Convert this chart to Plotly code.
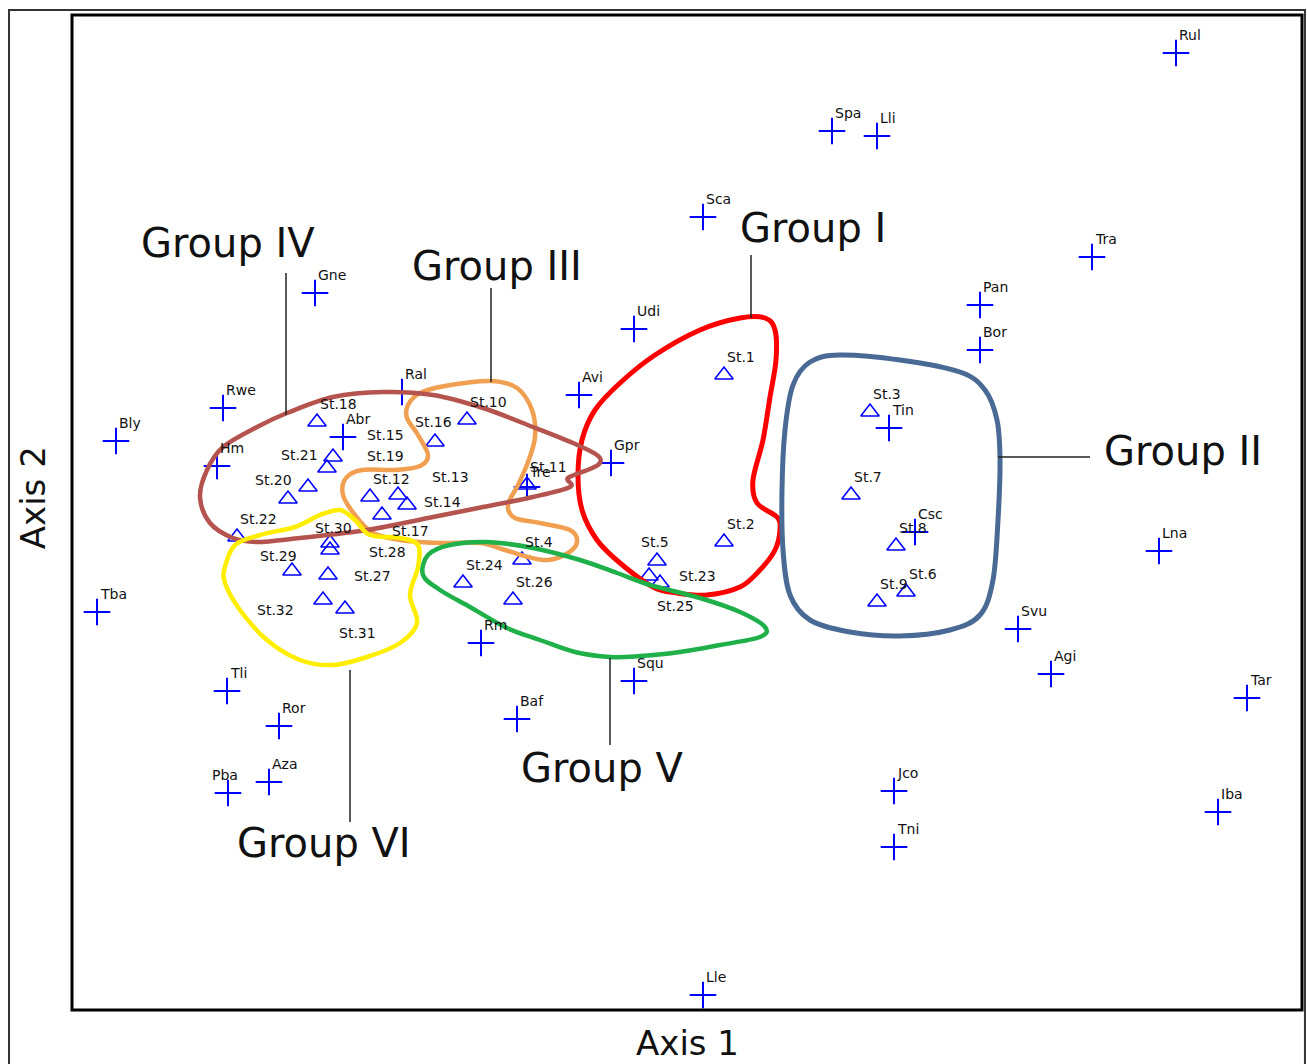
import plotly.graph_objects as go

# ---------------- data ----------------
species_names = ["Rul", "Spa", "Lli", "Sca", "Tra", "Pan", "Bor", "Udi", "Gne", "Ral", "Avi",
                 "Rwe", "Bly", "Abr", "Hm", "Gpr", "Tre", "Tin", "Csc", "Lna", "Tba", "Svu",
                 "Rm", "Squ", "Agi", "Tar", "Tli", "Ror", "Baf", "Aza", "Pba", "Jco", "Iba",
                 "Tni", "Lle"]
species_x = [110.4, 76.0, 80.5, 63.1, 102.0, 90.8, 90.8, 56.2, 24.3, 33.0, 50.7,
             15.1, 4.4, 27.1, 14.5, 53.9, 45.5, 81.7, 84.3, 108.7, 2.5, 94.6,
             40.9, 56.2, 97.9, 117.5, 15.5, 20.7, 44.5, 19.7, 15.6, 82.2, 114.6,
             82.2, 63.1]
species_y = [95.7, 87.9, 87.4, 79.3, 75.3, 70.5, 66.0, 68.1, 71.7, 61.8, 61.5,
             60.2, 56.9, 57.3, 54.4, 54.7, 52.3, 58.2, 47.8, 45.9, 39.8, 38.1,
             36.7, 32.9, 33.6, 31.2, 31.9, 28.4, 29.1, 22.8, 21.7, 21.9, 19.8,
             16.3, 1.5]

station_names = ["St.%d" % i for i in range(1, 33)]
station_x = [65.2, 65.2, 79.8, 45.0, 58.5, 83.4, 77.9, 82.4, 80.5, 39.5, 45.5, 29.8, 32.6, 33.5,
             26.1, 36.3, 31.0, 24.5, 25.5, 21.6, 23.6, 16.5, 57.7, 39.1, 58.8, 44.1, 25.6, 25.8,
             22.0, 25.8, 27.3, 25.1]
station_y = [63.5, 46.8, 59.8, 45.0, 44.9, 41.8, 51.5, 46.4, 40.8, 59.0, 52.5, 51.3, 51.5, 50.5,
             55.3, 56.8, 49.5, 58.8, 54.2, 51.1, 52.3, 47.3, 43.4, 42.7, 42.7, 41.0, 43.5, 46.0,
             43.9, 46.7, 40.1, 41.0]

# group outlines (hand-drawn envelopes)
group1_x = [69.3, 70.3, 70.4, 69.8, 69.1, 68.1, 68.5, 70.5, 70.8, 70.3, 68.8, 66.8, 63.5, 60.5,
            58.1, 54.8, 52.5, 51.0, 50.6, 51.0, 52.3, 54.8, 58.3, 62.8, 66.8]
group1_y = [69.2, 68.0, 65.0, 61.3, 57.0, 53.0, 50.7, 49.3, 48.0, 46.0, 44.0, 42.3, 41.5, 41.7,
            42.3, 44.7, 47.0, 50.0, 53.5, 57.0, 60.0, 62.7, 65.5, 68.0, 69.2]
group2_x = [76.8, 82.8, 88.8, 91.3, 92.5, 92.8, 92.6, 92.1, 90.8, 87.8, 82.8, 77.8, 73.8, 71.8,
            71.1, 71.0, 71.3, 72.1, 73.8]
group2_y = [65.5, 65.0, 63.8, 62.0, 59.0, 55.0, 49.0, 43.0, 39.5, 38.0, 37.4, 37.8, 39.0, 41.5,
            46.0, 52.0, 58.0, 62.5, 64.8]
group3_x = [33.6, 34.8, 37.3, 41.8, 44.5, 46.0, 46.3, 45.6, 44.6, 43.6, 44.3, 46.8, 49.8, 50.5,
            49.6, 47.6, 45.6, 43.3, 40.8, 36.8, 32.8, 30.1, 28.3, 27.1, 27.4, 29.0, 32.3, 34.8,
            35.6, 34.6, 33.5]
group3_y = [60.5, 61.7, 62.4, 62.9, 62.2, 60.0, 57.3, 54.8, 52.5, 50.5, 49.2, 48.7, 48.0, 46.8,
            45.7, 45.0, 45.3, 46.0, 46.7, 46.7, 47.0, 47.7, 49.5, 51.5, 53.2, 54.0, 54.0, 54.4,
            55.5, 57.5, 59.2]
group4_x = [12.8, 13.5, 15.1, 18.5, 21.5, 26.1, 31.1, 36.1, 41.1, 46.1, 50.1, 52.5, 52.8, 51.8,
            49.6, 49.8, 46.1, 41.1, 36.1, 29.5, 22.8, 18.5, 16.1, 13.8]
group4_y = [51.3, 54.0, 56.3, 58.3, 59.7, 61.3, 61.8, 61.5, 60.2, 58.3, 56.7, 55.5, 54.7, 54.1,
            53.2, 52.3, 51.3, 50.3, 49.3, 48.0, 47.2, 46.8, 47.2, 48.7]
group5_x = [35.1, 35.6, 37.8, 41.5, 46.1, 50.8, 54.5, 57.8, 62.8, 66.8, 69.3, 68.8, 64.8, 60.8,
            56.8, 53.8, 50.3, 46.8, 43.5, 39.8, 36.8]
group5_y = [43.5, 45.5, 46.5, 46.8, 46.2, 45.0, 43.7, 42.5, 41.2, 39.8, 38.3, 37.3, 36.5, 35.8,
            35.4, 35.3, 35.8, 37.0, 38.2, 40.3, 42.0]
group6_x = [15.3, 16.3, 18.8, 22.3, 24.8, 26.8, 28.3, 29.8, 32.8, 34.6, 34.6, 33.8, 34.5, 32.8,
            29.5, 26.1, 22.8, 19.5, 16.8, 15.3]
group6_y = [44.3, 46.5, 47.5, 48.3, 49.5, 50.0, 49.0, 47.5, 47.2, 46.5, 44.3, 41.5, 38.7, 36.7,
            35.3, 34.5, 35.0, 37.0, 40.0, 42.7]

group_labels = ["Group I", "Group II", "Group III", "Group IV", "Group V", "Group VI"]
group_label_x = [74.1, 111.1, 42.5, 15.6, 53.0, 25.2]
group_label_y = [78.2, 55.9, 74.4, 76.7, 24.2, 16.7]
# leader lines
leader_x0 = [67.9, 92.6, 41.9, 21.4, 53.8, 27.8]
leader_y0 = [75.5, 55.3, 72.2, 73.7, 35.2, 34.0]
leader_x1 = [67.9, 101.8, 41.9, 21.4, 53.8, 27.8]
leader_y1 = [69.2, 55.3, 62.8, 59.5, 26.5, 18.8]

# ---------------- styling ----------------
FONT = "DejaVu Sans"
group_colors = ["#ff0000", "#4a6a96", "#f0a050", "#b5534f", "#1fb04a", "#ffee00"]
group_widths = [5, 5, 4.5, 4.5, 4.5, 4.5]
default_off = (1, -18)
station_off = {"St.5": (-18, -19), "St.13": (32, -18), "St.14": (15, -3), "St.15": (32, -22),
               "St.16": (-22, -20), "St.17": (8, 16), "St.19": (38, -12), "St.20": (-35, -19),
               "St.21": (-29, -32), "St.23": (28, 0), "St.25": (-5, 23), "St.27": (24, 1),
               "St.28": (37, 2), "St.29": (-34, -15), "St.30": (-17, -15), "St.31": (-8, 24),
               "St.32": (-68, 10)}
species_off = {"Tre": (0, -15), "Pba": (-18, -18)}


def closed_spline_path(xs, ys):
    n = len(xs)
    pts = list(zip(xs, ys))
    d = "M %.3f,%.3f" % pts[0]
    for i in range(n):
        p0 = pts[(i - 1) % n]
        p1 = pts[i]
        p2 = pts[(i + 1) % n]
        p3 = pts[(i + 2) % n]
        c1 = (p1[0] + (p2[0] - p0[0]) / 6, p1[1] + (p2[1] - p0[1]) / 6)
        c2 = (p2[0] - (p3[0] - p1[0]) / 6, p2[1] - (p3[1] - p1[1]) / 6)
        d += " C %.3f,%.3f %.3f,%.3f %.3f,%.3f" % (c1 + c2 + p2)
    return d + " Z"


fig = go.Figure()

fig.add_trace(go.Scatter(x=species_x, y=species_y, mode="markers", hoverinfo="text",
                         text=species_names,
                         marker=dict(symbol="cross-thin", size=19, color="#0000ff",
                                     line=dict(color="#0000ff", width=2))))
fig.add_trace(go.Scatter(x=station_x, y=station_y, mode="markers", hoverinfo="text",
                         text=station_names,
                         marker=dict(symbol="triangle-up-open", size=16, color="#0000ff",
                                     line=dict(color="#0000ff", width=1.6))))

shapes = []
outlines = [(group1_x, group1_y), (group2_x, group2_y), (group3_x, group3_y),
            (group4_x, group4_y), (group5_x, group5_y), (group6_x, group6_y)]
for (gx, gy), col, w in zip(outlines, group_colors, group_widths):
    shapes.append(dict(type="path", xref="x", yref="y", path=closed_spline_path(gx, gy),
                       line=dict(color=col, width=w), layer="above"))
for x0, y0, x1, y1 in zip(leader_x0, leader_y0, leader_x1, leader_y1):
    shapes.append(dict(type="line", xref="x", yref="y", x0=x0, y0=y0, x1=x1, y1=y1,
                       line=dict(color="#222222", width=1.5)))
# plot box
shapes.append(dict(type="rect", xref="paper", yref="paper", x0=0, y0=0, x1=1, y1=1,
                   line=dict(color="black", width=3), layer="above"))
# outer frame
shapes.append(dict(type="rect", xref="paper", yref="paper", x0=-0.0512, y0=-0.07,
                   x1=1.0024, y1=1.005, line=dict(color="#333333", width=2)))

annotations = []
for name, x, y in zip(station_names, station_x, station_y):
    dx, dy = station_off.get(name, default_off)
    annotations.append(dict(x=x, y=y, xref="x", yref="y", text=name, showarrow=False,
                            xanchor="left", yanchor="middle", xshift=dx, yshift=-dy,
                            font=dict(family=FONT, size=14, color="#111111")))
for name, x, y in zip(species_names, species_x, species_y):
    dx, dy = species_off.get(name, default_off)
    annotations.append(dict(x=x, y=y, xref="x", yref="y", text=name, showarrow=False,
                            xanchor="left", yanchor="middle", xshift=dx, yshift=-dy,
                            font=dict(family=FONT, size=14, color="#111111")))
for name, x, y in zip(group_labels, group_label_x, group_label_y):
    annotations.append(dict(x=x, y=y, xref="x", yref="y", text=name, showarrow=False,
                            xanchor="center", yanchor="middle",
                            font=dict(family=FONT, size=40, color="#111111")))
annotations.append(dict(x=0.5, y=-0.0335, xref="paper", yref="paper", text="Axis 1",
                        showarrow=False, xanchor="center", yanchor="middle",
                        font=dict(family=FONT, size=34, color="#111111")))
annotations.append(dict(x=-0.032, y=0.515, xref="paper", yref="paper", text="Axis 2",
                        showarrow=False, xanchor="center", yanchor="middle", textangle=-90,
                        font=dict(family=FONT, size=34, color="#111111")))

fig.update_layout(
    width=1307, height=1064,
    margin=dict(l=72, r=5, t=15, b=54),
    paper_bgcolor="white", plot_bgcolor="white",
    showlegend=False,
    xaxis=dict(range=[0, 123], showgrid=False, zeroline=False, showticklabels=False,
               ticks="", showline=False, fixedrange=True),
    yaxis=dict(range=[0, 99.5], showgrid=False, zeroline=False, showticklabels=False,
               ticks="", showline=False, fixedrange=True),
    shapes=shapes,
    annotations=annotations,
)

# remove the default page margin so the figure fills the window exactly
page_css = ("document.body.style.margin='0';"
            "document.body.style.overflow='hidden';"
            "document.documentElement.style.overflow='hidden';")
fig.write_html("out.html", post_script=page_css, config={"displayModeBar": False})
